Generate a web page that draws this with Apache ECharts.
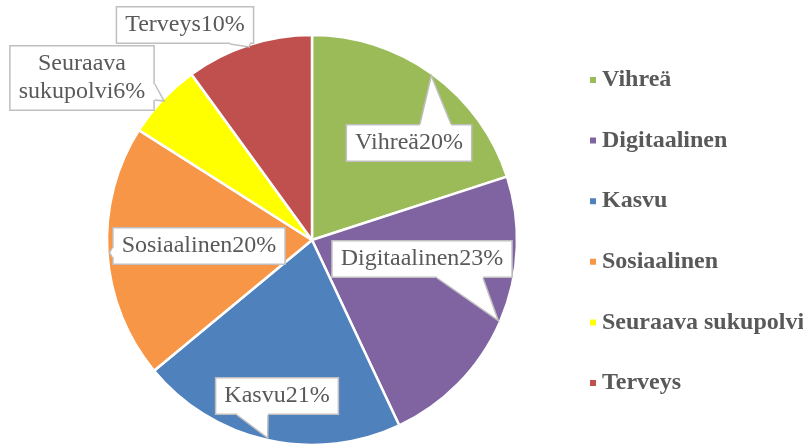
<!DOCTYPE html>
<html lang="fi">
<head>
    <meta charset="utf-8">
    <title>Pie</title>
    <script src="https://cdn.jsdelivr.net/npm/echarts@6/dist/echarts.min.js"></script>
    <style>
    * { margin: 0; padding: 0; }
    #chart-container { width: 803px; height: 448px; background: #fff; }
    </style>
</head>
<body>
    <div id="chart-container"></div>
    <script>
      var categories = ['Vihreä', 'Digitaalinen', 'Kasvu', 'Sosiaalinen', 'Seuraava sukupolvi', 'Terveys'];
      var shares = [20, 23, 21, 20, 6, 10];
      var colors = ['#9BBB59', '#8064A2', '#4F81BD', '#F79646', '#FFFF00', '#C0504D'];

      // callout box centres, and which side of the box the pointer leaves from
      var labelSpots = [[409, 143], [422, 259], [277, 396], [199, 246], [82, 78], [185, 25]];
      var tailSides = ['top', 'bottom', 'bottom', 'left', 'right', 'bottom'];
      var tailBase = [[11, 42], [15, 61], [-40, -9], [2, 11], [6, 22], [45, 65]];

      var pieCenter = [312, 240];
      var pieRadius = 205;
      var font = '"Liberation Serif", "Times New Roman", serif';
      var labelSizes = [];

      var myChart = echarts.init(document.getElementById('chart-container'));

      myChart.setOption({
          animation: false,
          color: colors,
          legend: {
              orient: 'vertical',
              left: 583,
              top: 62,
              icon: 'rect',
              itemWidth: 8,
              itemHeight: 8,
              itemGap: 34.6,
              textStyle: {
                  fontFamily: font,
                  fontSize: 24,
                  fontWeight: 'bold',
                  color: '#595959',
                  lineHeight: 26
              }
          },
          series: [
              {
                  type: 'pie',
                  center: pieCenter,
                  radius: pieRadius,
                  startAngle: 90,
                  clockwise: true,
                  data: categories.map(function (name, i) {
                      return { name: name, value: shares[i] };
                  }),
                  itemStyle: { borderColor: '#fff', borderWidth: 2.5 },
                  label: {
                      show: true,
                      position: 'inside',
                      formatter: function (p) {
                          var n = p.name === 'Seuraava sukupolvi' ? 'Seuraava\nsukupolvi' : p.name;
                          return n + p.value + '%';
                      },
                      overflow: 'none',
                      fontFamily: font,
                      fontSize: 24,
                      color: '#595959',
                      lineHeight: 28,
                      align: 'center',
                      backgroundColor: '#fff',
                      borderColor: '#BFBFBF',
                      borderWidth: 1.5,
                      padding: [4, 8, 3, 8]
                  },
                  labelLine: { show: false },
                  labelLayout: function (params) {
                      var s = labelSpots[params.dataIndex];
                      labelSizes[params.dataIndex] = [params.labelRect.width, params.labelRect.height];
                      return {
                          x: s[0],
                          y: s[1],
                          align: 'center',
                          verticalAlign: 'middle'
                      };
                  }
              }
          ]
      });

      // speech-bubble pointers: from the box edge to the slice rim at its middle angle
      var total = shares.reduce(function (a, b) { return a + b; }, 0);
      var cum = 0;
      var tails = [];
      shares.forEach(function (v, i) {
          var f = (cum + v / 2) / total;
          cum += v;
          var a = f * Math.PI * 2;
          var tip = [pieCenter[0] + pieRadius * Math.sin(a) * 0.99, pieCenter[1] - pieRadius * Math.cos(a) * 0.99];
          var c = labelSpots[i];
          var sz = labelSizes[i] || [100, 34];
          var hw = sz[0] / 2, hh = sz[1] / 2;
          var b = tailBase[i];
          var p1, p2, q1, q2;
          if (tailSides[i] === 'top') {
              p1 = [c[0] + b[0], c[1] - hh]; p2 = [c[0] + b[1], c[1] - hh];
              q1 = [p1[0], p1[1] + 2]; q2 = [p2[0], p2[1] + 2];
          } else if (tailSides[i] === 'bottom') {
              p1 = [c[0] + b[0], c[1] + hh]; p2 = [c[0] + b[1], c[1] + hh];
              q1 = [p1[0], p1[1] - 2]; q2 = [p2[0], p2[1] - 2];
          } else if (tailSides[i] === 'left') {
              p1 = [c[0] - hw, c[1] + b[0]]; p2 = [c[0] - hw, c[1] + b[1]];
              q1 = [p1[0] + 2, p1[1]]; q2 = [p2[0] + 2, p2[1]];
          } else {
              p1 = [c[0] + hw, c[1] + b[0]]; p2 = [c[0] + hw, c[1] + b[1]];
              q1 = [p1[0] - 2, p1[1]]; q2 = [p2[0] - 2, p2[1]];
          }
          tails.push({
              type: 'polygon',
              z: 100,
              shape: { points: [q1, p1, tip, p2, q2] },
              style: { fill: '#fff', stroke: null }
          });
          tails.push({
              type: 'polyline',
              z: 101,
              shape: { points: [p1, tip, p2] },
              style: { stroke: '#BFBFBF', lineWidth: 1.5, fill: null }
          });
      });

      myChart.setOption({ graphic: tails });
    </script>
</body>
</html>
